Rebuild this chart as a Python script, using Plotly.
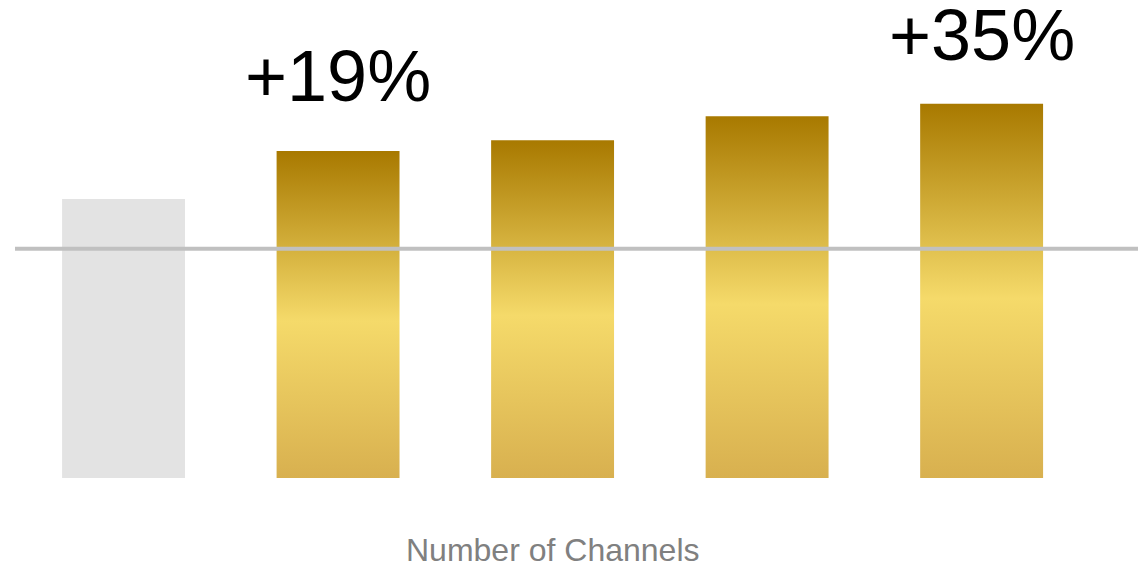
import plotly.graph_objects as go

# ---- data ----
categories = ["1", "2", "3", "4", "5"]
values = [100.0, 117.2, 121.1, 129.7, 134.1]
is_baseline = [True, False, False, False, False]
labels = ["", "+19%", "", "", "+35%"]
reference_value = 82.2
axis_title = "Number of Channels"

# ---- style ----
BAR_W = 0.573
GRAY = "#E3E3E3"
GOLD_SCALE = [[0.0, "#D8B04F"], [0.48, "#F5DA6A"], [1.0, "#A87900"]]

fig = go.Figure()
for i, (cat, v, base) in enumerate(zip(categories, values, is_baseline)):
    x0, x1 = i - BAR_W / 2, i + BAR_W / 2
    xs = [x0, x1, x1, x0, x0]
    ys = [0, 0, v, v, 0]
    if base:
        fig.add_trace(go.Scatter(x=xs, y=ys, mode="lines", fill="toself",
                                 fillcolor=GRAY, line=dict(width=0),
                                 hoverinfo="skip", showlegend=False))
    else:
        fig.add_trace(go.Scatter(x=xs, y=ys, mode="lines", fill="toself",
                                 fillgradient=dict(type="vertical", colorscale=GOLD_SCALE),
                                 line=dict(width=0),
                                 hoverinfo="skip", showlegend=False))

label_shift = {1: 75, 4: 69}
for i, (lab, v) in enumerate(zip(labels, values)):
    if lab:
        fig.add_annotation(x=i, y=v, text=lab, showarrow=False,
                           yanchor="middle", yshift=label_shift.get(i, 70),
                           font=dict(family="Liberation Sans, Arial", size=72, color="#000000"))

fig.add_shape(type="line", xref="paper", x0=0, x1=1, yref="y",
              y0=reference_value, y1=reference_value,
              line=dict(color="#C0C0C0", width=4), layer="above")

fig.add_annotation(x=2, xref="x", y=-0.15, yref="paper", text=axis_title,
                   showarrow=False, yanchor="middle", borderpad=0,
                   font=dict(family="Liberation Sans, Arial", size=32, color="#808080"))

fig.update_layout(
    width=1138, height=562,
    margin=dict(l=15, r=0, t=0, b=84),
    paper_bgcolor="white", plot_bgcolor="white",
    xaxis=dict(range=[-0.506, 4.729], showgrid=False, zeroline=False,
               showticklabels=False, ticks="", showline=False, fixedrange=True),
    yaxis=dict(range=[0, 171.33], showgrid=False, zeroline=False,
               showticklabels=False, ticks="", showline=False, fixedrange=True),
    showlegend=False,
)

fig.write_html("out.html")
